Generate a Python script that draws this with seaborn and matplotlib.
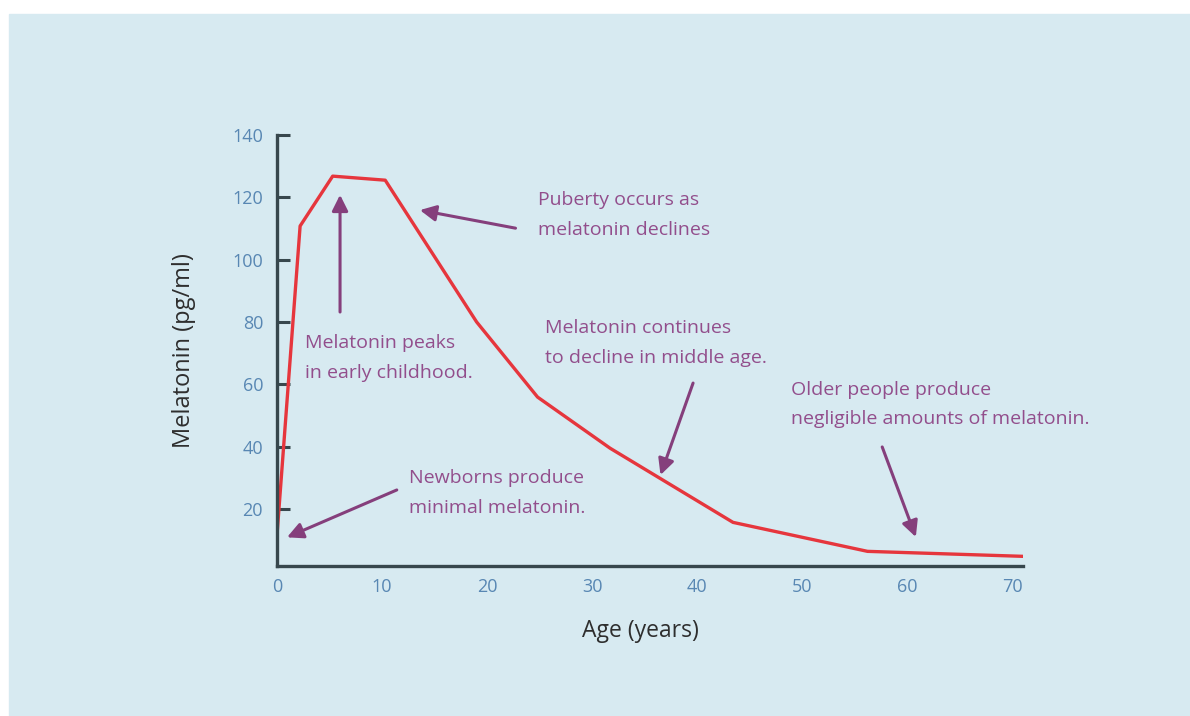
import matplotlib.pyplot as plt
import matplotlib.patches as mpatches
import seaborn as sns
import pandas as pd

# melatonin level by age
age = [0, 2.2, 5.3, 10.3, 19.0, 24.8, 31.7, 43.4, 56.2, 71.0]
melatonin = [11.6, 110.8, 126.8, 125.5, 80.0, 55.9, 39.5, 15.7, 6.4, 4.8]

x_ticks = [0, 10, 20, 30, 40, 50, 60, 70]
y_ticks = [20, 40, 60, 80, 100, 120, 140]

notes = [
    "Newborns produce\nminimal melatonin.",
    "Melatonin peaks\nin early childhood.",
    "Puberty occurs as\nmelatonin declines",
    "Melatonin continues\nto decline in middle age.",
    "Older people produce\nnegligible amounts of melatonin.",
]
note_xy = [(12.6, 32.8), (2.7, 76.0), (24.8, 122.0), (25.5, 80.8), (48.9, 61.2)]
arrow_tail = [(11.4, 26.1), (6.0, 83.2), (22.7, 110.1), (39.6, 60.4), (57.6, 39.9)]
arrow_head = [(0.95, 10.9), (6.0, 120.8), (13.6, 115.9), (36.5, 30.9), (60.8, 11.0)]

df = pd.DataFrame({'Age': age, 'Melatonin': melatonin})

sns.set_theme(style="ticks")
plt.rcParams['font.family'] = ['Open Sans', 'DejaVu Sans']

bg = '#d7eaf1'
note_col = '#924e8c'
arrow_col = '#853f7c'
tick_col = '#5887b3'
axis_col = '#37474d'

fig = plt.figure(figsize=(11.9, 7.16), dpi=100, facecolor='white')
fig.patches.append(mpatches.Rectangle((9 / 1190, 0), 1, 1 - 14 / 716,
                                      transform=fig.transFigure, color=bg, zorder=-10))
ax = fig.add_axes([277 / 1190, 1 - 566 / 716, 746 / 1190, 431 / 716])
ax.set_facecolor('none')

sns.lineplot(data=df, x='Age', y='Melatonin', color='#e6363d', lw=2.4, ax=ax)

ax.set_xlim(0, 71)
ax.set_ylim(1.7, 140)
ax.set_xticks(x_ticks)
ax.set_yticks(y_ticks)
sns.despine(ax=ax)
for s in ['left', 'bottom']:
    ax.spines[s].set_color(axis_col)
    ax.spines[s].set_linewidth(2.4)
ax.tick_params(axis='y', direction='in', length=9.5, width=2.2, color=axis_col,
               labelcolor=tick_col, labelsize=13, pad=10)
ax.tick_params(axis='x', length=0, labelcolor=tick_col, labelsize=13, pad=9)

ax.set_xlabel('Age (years)', fontsize=16.5, color='#2e2e2e')
ax.set_ylabel('Melatonin (pg/ml)', fontsize=17, color='#2e2e2e')
ax.xaxis.set_label_coords(0.487, -0.123)
ax.yaxis.set_label_coords(-0.108, 0.5)

for txt, xy, tail, head in zip(notes, note_xy, arrow_tail, arrow_head):
    ax.text(xy[0], xy[1], txt, color=note_col, fontsize=14, ha='left', va='top',
            linespacing=1.85)
    ax.annotate('', xy=head, xytext=tail,
                arrowprops=dict(arrowstyle='-|>', color=arrow_col, lw=2.2,
                                mutation_scale=24, shrinkA=0, shrinkB=0))

plt.savefig('out.png', dpi=100, facecolor='white')
